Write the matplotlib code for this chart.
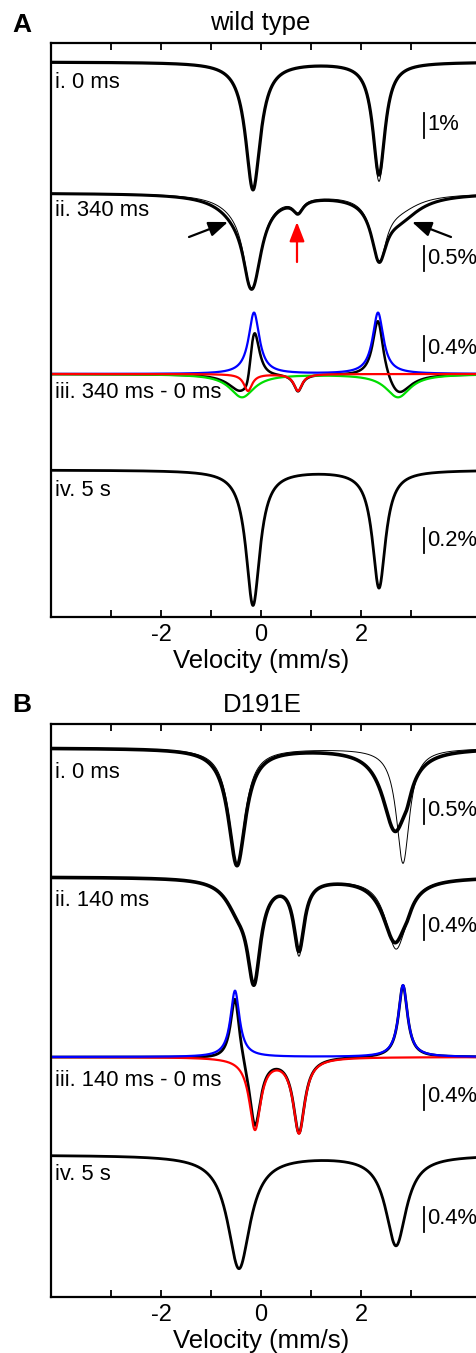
import numpy as np
import matplotlib
matplotlib.use("Agg")
import matplotlib.pyplot as plt

plt.rcParams['font.family'] = ['Liberation Sans', 'DejaVu Sans']

# Mossbauer lines: (position mm/s, FWHM mm/s, depth %)
wt_0ms_data = [(-0.16, 0.36, 5.1), (2.36, 0.30, 4.5)]
wt_0ms_fit = [(-0.16, 0.36, 5.1), (2.36, 0.30, 4.75)]
wt_340ms_data = [(-0.16, 0.42, 1.45), (2.36, 0.36, 1.09), (-0.40, 1.0, 0.35),
                 (2.76, 1.0, 0.45), (-0.26, 0.24, 0.25), (0.74, 0.24, 0.25)]
wt_340ms_fit = [(-0.16, 0.42, 1.57), (2.36, 0.36, 1.21), (-0.40, 1.0, 0.20),
                (2.76, 1.0, 0.25), (-0.26, 0.24, 0.25), (0.74, 0.24, 0.25)]
wt_diff_blue = [(-0.14, 0.26, 0.98), (2.34, 0.26, 0.98)]
wt_diff_red = [(-0.26, 0.20, 0.27), (0.74, 0.20, 0.27)]
wt_diff_green = [(-0.38, 0.60, 0.37), (2.74, 0.60, 0.37)]
wt_5s_data = [(-0.16, 0.34, 1.08), (2.36, 0.32, 0.94)]

mut_0ms_data = [(-0.48, 0.42, 2.34), (2.68, 0.60, 1.62), (2.92, 0.22, 0.22)]
mut_0ms_fit = [(-0.48, 0.38, 2.34), (2.84, 0.32, 2.3)]
mut_140ms_data = [(-0.46, 0.60, 0.40), (-0.14, 0.32, 1.51), (0.76, 0.26, 1.10),
                  (2.68, 0.58, 1.02), (2.92, 0.22, 0.10)]
mut_140ms_fit = [(-0.46, 0.60, 0.40), (-0.14, 0.32, 1.51), (0.76, 0.26, 1.18),
                 (2.70, 0.50, 1.12), (2.92, 0.22, 0.10)]
mut_diff_blue = [(-0.52, 0.22, 1.06), (2.84, 0.22, 1.15)]
mut_diff_red = [(-0.12, 0.28, 1.14), (0.76, 0.28, 1.20)]
mut_5s_data = [(-0.44, 0.55, 1.81), (2.70, 0.50, 1.44)]

labels_A = ["i. 0 ms", "ii. 340 ms", "iii. 340 ms - 0 ms", "iv. 5 s"]
labels_B = ["i. 0 ms", "ii. 140 ms", "iii. 140 ms - 0 ms", "iv. 5 s"]
scales_A = [1, 0.5, 0.4, 0.2]
scales_B = [0.5, 0.4, 0.4, 0.4]
tick_values = [-3, -2, -1, 0, 1, 2, 3]
tick_labels = ["", "-2", "", "0", "", "2", ""]

# layout in image pixels
W, H = 477, 1353
base_A = [62, 193, 374, 470]
base_B = [748, 877, 1057, 1155]
label_py_A = [82, 211, 393, 491]
label_py_B = [772, 900, 1080, 1175]
bar_py_A = [125, 258, 348, 540]
bar_py_B = [811, 927, 1097, 1219]
BAR_PX = 25

v = np.linspace(-4.2, 4.5, 1500)


def lines(lst):
    out = np.zeros_like(v)
    for pos, fwhm, depth in lst:
        out += depth / (1 + ((v - pos) / (fwhm / 2)) ** 2)
    return out


def px2v(x):
    return (x - 261) / 50.0


def make_axes(top, bottom):
    ax = fig.add_axes([51 / W, 1 - bottom / H, 435 / W, (bottom - top) / H])
    ax.set_xlim(-4.2, 4.5)
    ax.set_ylim(0, bottom - top)
    ax.set_yticks([])
    ax.set_xticks(tick_values)
    ax.set_xticklabels(tick_labels)
    ax.tick_params(axis='x', direction='in', top=True, length=5, width=1.3,
                   labelsize=17, pad=5)
    for s in ['left', 'top', 'bottom']:
        ax.spines[s].set_linewidth(1.6)
    ax.spines['right'].set_visible(False)
    ax.set_xlabel("Velocity (mm/s)", fontsize=18.5, x=4.2 / 8.7, labelpad=2)
    return ax


def decorate(ax, bottom, labels, label_py, scales, bar_py):
    for lab, py in zip(labels, label_py):
        ax.text(-4.12, bottom - py, lab, fontsize=15.8, va='center', ha='left')
    for sc, py in zip(scales, bar_py):
        y = bottom - py
        ax.plot([px2v(424)] * 2, [y - BAR_PX / 2, y + BAR_PX / 2], color='k', lw=1.3)
        ax.text(px2v(427), y, "%g%%" % sc, fontsize=15.8, va='center', ha='left')


fig = plt.figure(figsize=(W / 100, H / 100), dpi=100)

# ---------------- panel A ----------------
topA, botA = 43, 617
axA = make_axes(topA, botA)
k = [BAR_PX / s for s in scales_A]
y0 = [botA - b for b in base_A]
axA.plot(v, y0[0] - k[0] * lines(wt_0ms_data), color='k', lw=2.3)
axA.plot(v, y0[0] - k[0] * lines(wt_0ms_fit), color='k', lw=0.7)
axA.plot(v, y0[1] - k[1] * lines(wt_340ms_data), color='k', lw=2.2)
axA.plot(v, y0[1] - k[1] * lines(wt_340ms_fit), color='k', lw=0.7)
blue = lines(wt_diff_blue)
red = -lines(wt_diff_red)
green = -lines(wt_diff_green)
axA.plot(v, y0[2] + k[2] * (blue + red + green), color='k', lw=1.8)
axA.plot(v, y0[2] + k[2] * green, color='#00dd00', lw=1.6)
axA.plot(v, y0[2] + k[2] * blue, color='#0000ff', lw=1.6)
axA.plot(v, y0[2] + k[2] * red, color='#ff0000', lw=1.6)
axA.plot(v, y0[3] - k[3] * lines(wt_5s_data), color='k', lw=2.0)
decorate(axA, botA, labels_A, label_py_A, scales_A, bar_py_A)

arrow_k = dict(arrowstyle='-|>,head_width=0.35,head_length=0.9', color='k',
               lw=1.6, mutation_scale=13, shrinkA=0, shrinkB=0)
axA.annotate('', xy=(px2v(228), botA - 222), xytext=(px2v(189), botA - 237),
             arrowprops=arrow_k)
axA.annotate('', xy=(px2v(412), botA - 222), xytext=(px2v(451), botA - 237),
             arrowprops=arrow_k)
arrow_r = dict(arrow_k, color='#ff0000')
axA.annotate('', xy=(px2v(297), botA - 222), xytext=(px2v(297), botA - 262),
             arrowprops=arrow_r)

fig.text(22 / W, 1 - 25 / H, "A", fontsize=19, fontweight='bold', ha='center', va='center')
fig.text(260 / W, 1 - 23 / H, "wild type", fontsize=18.5, ha='center', va='center')

# ---------------- panel B ----------------
topB, botB = 724, 1297
axB = make_axes(topB, botB)
k = [BAR_PX / s for s in scales_B]
y0 = [botB - b for b in base_B]
axB.plot(v, y0[0] - k[0] * lines(mut_0ms_data), color='k', lw=2.6)
axB.plot(v, y0[0] - k[0] * lines(mut_0ms_fit), color='k', lw=0.7)
axB.plot(v, y0[1] - k[1] * lines(mut_140ms_data), color='k', lw=2.6)
axB.plot(v, y0[1] - k[1] * lines(mut_140ms_fit), color='k', lw=0.7)
blue = lines(mut_diff_blue)
red = -lines(mut_diff_red)
axB.plot(v, y0[2] + k[2] * (blue + red), color='k', lw=2.0)
axB.plot(v, y0[2] + k[2] * red, color='#ff0000', lw=1.6)
axB.plot(v, y0[2] + k[2] * blue, color='#0000ff', lw=1.6)
axB.plot(v, y0[3] - k[3] * lines(mut_5s_data), color='k', lw=2.0)
decorate(axB, botB, labels_B, label_py_B, scales_B, bar_py_B)

fig.text(22 / W, 1 - 705 / H, "B", fontsize=19, fontweight='bold', ha='center', va='center')
fig.text(262 / W, 1 - 705 / H, "D191E", fontsize=18.5, ha='center', va='center')

fig.savefig("out.png", dpi=100)
